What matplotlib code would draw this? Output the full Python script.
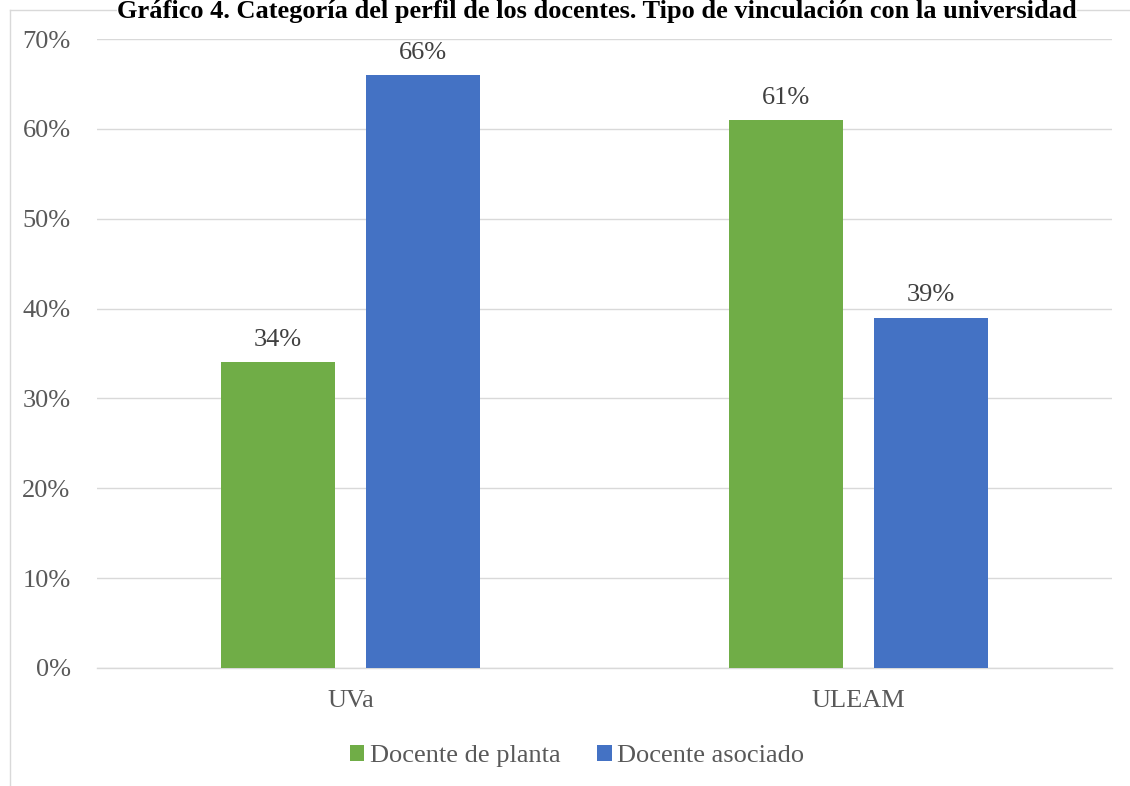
import matplotlib
matplotlib.use("Agg")
import matplotlib.pyplot as plt
from matplotlib.lines import Line2D
import numpy as np

categories = ["UVa", "ULEAM"]
series_names = ["Docente de planta", "Docente asociado"]
planta = [34, 61]
asociado = [66, 39]
yticks = [0, 10, 20, 30, 40, 50, 60, 70]
title = "Gráfico 4. Categoría del perfil de los docentes. Tipo de vinculación con la universidad"

colors = ["#70AD47", "#4472C4"]
plt.rcParams['font.family'] = ['Liberation Serif', 'DejaVu Serif']
FS = 19

fig = plt.figure(figsize=(11.3, 7.86), dpi=100)
ax = fig.add_axes([97/1130, 1-668/786, (1112-97)/1130, (668-39)/786])

x = np.arange(len(categories))
w = 0.225
off = 0.143
b1 = ax.bar(x - off, planta, w, color=colors[0], label=series_names[0], zorder=3)
b2 = ax.bar(x + off, asociado, w, color=colors[1], label=series_names[1], zorder=3)
for bars, vals in ((b1, planta), (b2, asociado)):
    for r, v in zip(bars, vals):
        ax.annotate(f"{v}%", (r.get_x() + r.get_width()/2, v), xytext=(0, 8),
                    textcoords="offset points", ha="center", va="bottom",
                    fontsize=FS, color="#404040")

ax.set_xlim(-0.5, 1.5)
ax.set_ylim(0, 70)
ax.set_yticks(yticks)
ax.set_yticklabels([f"{t}%" for t in yticks])
ax.set_xticks(x)
ax.set_xticklabels(categories)
ax.tick_params(axis='both', length=0, labelsize=FS, labelcolor="#595959")
ax.tick_params(axis='y', pad=19)
ax.tick_params(axis='x', pad=16)
ax.grid(axis='y', color="#D9D9D9", linewidth=1, zorder=0)
for s in ["top", "right", "left"]:
    ax.spines[s].set_visible(False)
ax.spines["bottom"].set_color("#D9D9D9")
ax.spines["bottom"].set_linewidth(1)

leg = fig.legend(handles=[b1, b2], labels=series_names, loc="center",
                 bbox_to_anchor=(577/1130, 1-756/786), ncol=2, frameon=False,
                 fontsize=FS, handlelength=0.55, handleheight=0.55, handletextpad=0.2,
                 columnspacing=1.4)
for t in leg.get_texts():
    t.set_color("#595959")

# chart border
fig.add_artist(Line2D([10/1130, 10/1130], [0, 1-10/786], color="#D9D9D9", lw=1))
fig.add_artist(Line2D([10/1130, 1], [1-10/786, 1-10/786], color="#D9D9D9", lw=1))

fig.text(597/1130, 1-18/786, title, ha="center", va="baseline", fontsize=FS,
         fontweight="bold", color="black",
         bbox=dict(facecolor="white", edgecolor="none", pad=0))

fig.savefig("out.png", dpi=100)
